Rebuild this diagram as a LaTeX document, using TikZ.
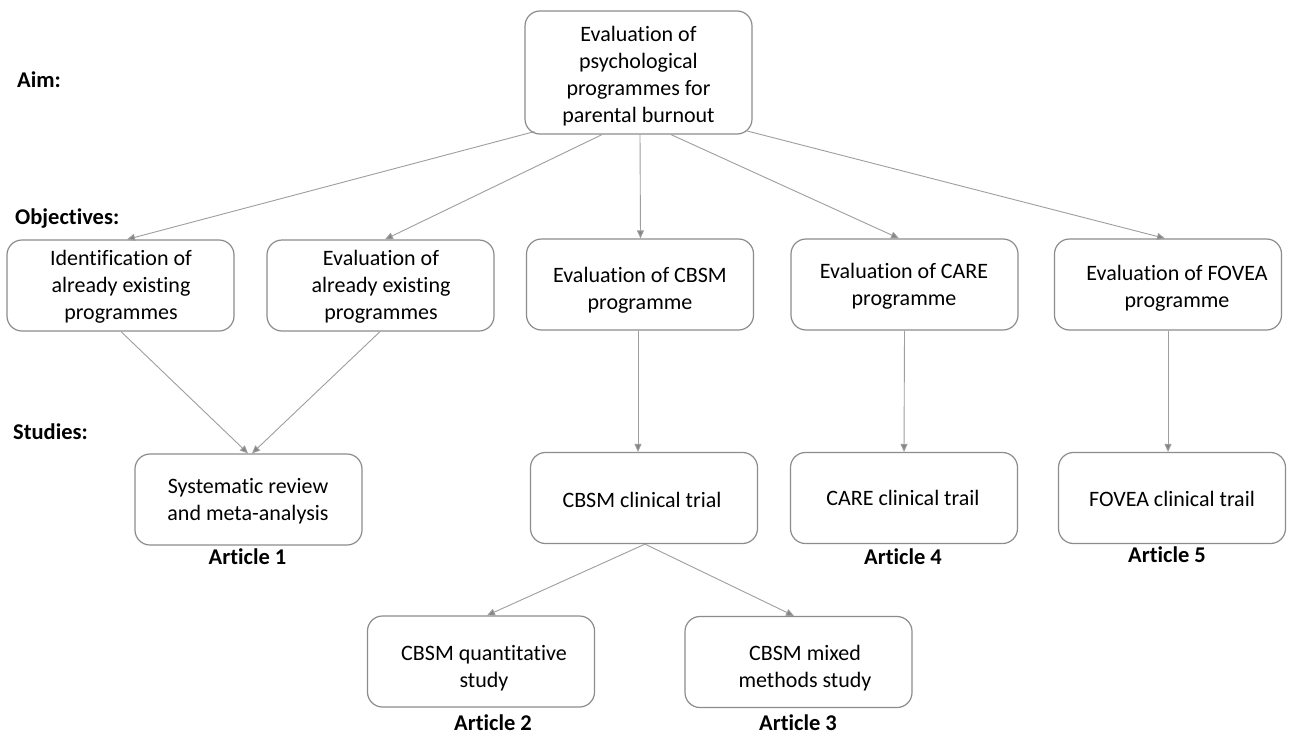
\documentclass[tikz,border=0pt]{standalone}
\usepackage{fontspec}
\setmainfont{Carlito}[Ligatures=NoCommon]
\usetikzlibrary{arrows.meta,calc}

\definecolor{boxline}{HTML}{8C8C8C}
\definecolor{linkline}{HTML}{9E9E9E}
\definecolor{tipfill}{HTML}{858585}

\tikzset{
  card/.style={draw=boxline, line width=1.2pt, rounded corners=15pt,
    minimum width=227pt, minimum height=91pt, inner sep=0pt, fill=white},
  tall/.style={card, minimum height=123pt},
  words/.style={inner sep=0pt, align=center, font=\fontsize{22}{27}\selectfont},
  heading/.style={inner sep=0pt, anchor=west, font=\fontsize{22.5}{27}\selectfont\bfseries},
  article/.style={inner sep=0pt, font=\fontsize{22.5}{27}\selectfont\bfseries},
  link/.style={draw=linkline, line width=0.9pt,
    -{Triangle[length=8pt,width=7pt,fill=tipfill]}},
}

\begin{document}
\begin{tikzpicture}[x=1pt, y=-1pt]
\useasboundingbox[fill=white] (0,0) rectangle (1290,736);

% row labels
\node[heading] (laim) at (17,80) {Aim:};
\node[heading] (lobj) at (15,219) {Objectives:};
\node[heading] (lstu) at (13,432) {Studies:};

% aim
\node[tall] (aim) at (638.5,72.5) {};
\node[words] (aimt) at (638.5,76.5) {Evaluation of\\psychological\\programmes for\\parental burnout};

% objectives
\node[card] (o1) at (120.5,285.5) {};
\node[words] (o1t) at (121,287) {Identification of\\already existing\\programmes};
\node[card] (o2) at (380.5,285.5) {};
\node[words] (o2t) at (381,287) {Evaluation of\\already existing\\programmes};
\node[card] (o3) at (640,284.5) {};
\node[words] (o3t) at (640,290) {Evaluation of CBSM\\programme};
\node[card] (o4) at (904.5,284.5) {};
\node[words] (o4t) at (904,286) {Evaluation of CARE\\programme};
\node[card] (o5) at (1168,284.5) {};
\node[words] (o5t) at (1177,288) {Evaluation of FOVEA\\programme};

% studies
\node[card] (sa) at (248.5,499.5) {};
\node[words] (sat) at (248,501) {Systematic review\\and meta-analysis};
\node[card] (sb) at (644,498) {};
\node[words] (sbt) at (642,500) {CBSM clinical trial};
\node[card] (sc) at (904,498) {};
\node[words] (sct) at (903,498) {CARE clinical trail};
\node[card] (sd) at (1172,498) {};
\node[words] (sdt) at (1172,499) {FOVEA clinical trail};
\node[card] (se) at (481,661.5) {};
\node[words] (set) at (484,668) {CBSM quantitative\\study};
\node[card] (sf) at (798.5,662) {};
\node[words] (sft) at (805,668) {CBSM mixed\\methods study};

% article labels
\node[article] (a1) at (247.5,557) {Article 1};
\node[article] (a2) at (493,723) {Article 2};
\node[article] (a3) at (798,723) {Article 3};
\node[article] (a4) at (903,557) {Article 4};
\node[article] (a5) at (1167,555) {Article 5};

% aim to objectives
\draw[link] ($(aim.south west)+(10,-3)$) -- ($(o1.north)+(6.5,0)$);
\draw[link] ($(aim.south)+(-36.5,0)$) -- ($(o2.north)+(4.5,0)$);
\draw[link] ($(aim.south)+(1.5,0)$) -- ($(o3.north)+(0.5,0)$);
\draw[link] ($(aim.south)+(32.5,0)$) -- ($(o4.north)+(-5.5,0)$);
\draw[link] ($(aim.south east)+(-7,-4)$) -- ($(o5.north)+(-3,0)$);

% objectives to studies
\draw[link] ($(o1.south)+(0.5,0)$) -- ($(sa.north)+(-0.5,0)$);
\draw[link] ($(o2.south)+(-0.5,0)$) -- ($(sa.north)+(3.5,0)$);
\draw[link] ($(o3.south)+(-2,0)$) -- ($(sb.north)+(-6,0)$);
\draw[link] (o4.south) -- (sc.north);
\draw[link] (o5.south) -- ($(sd.north)+(-4,0)$);

% clinical trial to follow-up studies
\draw[link] ($(sb.south)+(1,0)$) -- ($(se.north)+(6,0)$);
\draw[link] ($(sb.south)+(1,0)$) -- ($(sf.north)+(-4.5,0)$);
\end{tikzpicture}
\end{document}
